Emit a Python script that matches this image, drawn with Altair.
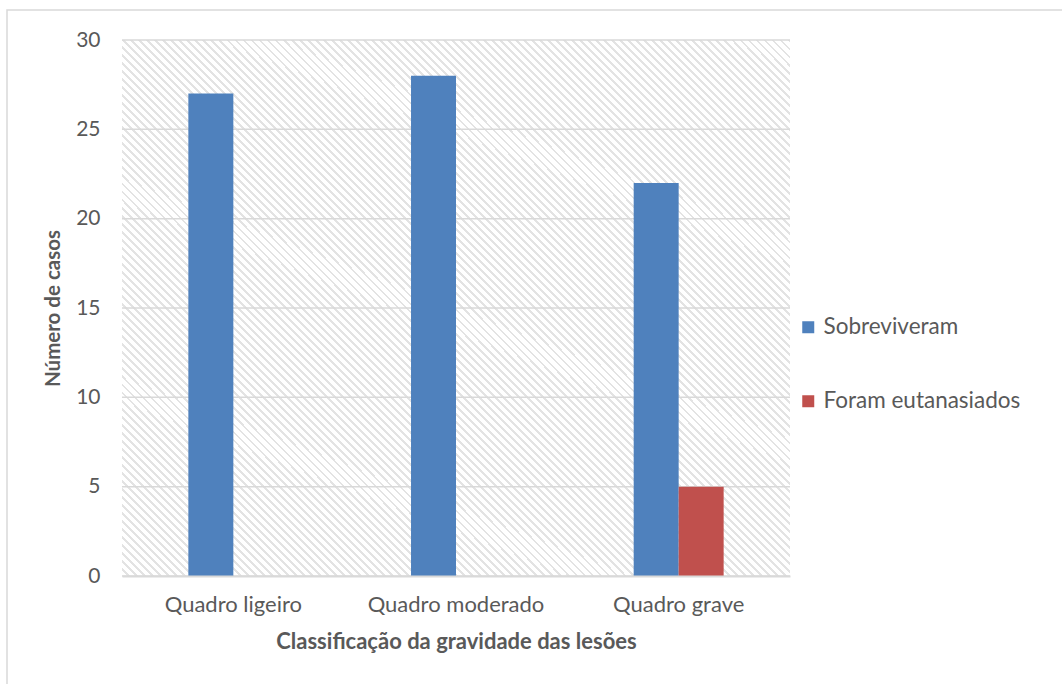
import altair as alt
import pandas as pd

# ---- data ----
categorias = ["Quadro ligeiro", "Quadro moderado", "Quadro grave"]
series = ["Sobreviveram", "Foram eutanasiados"]
sobreviveram = [27, 28, 22]
eutanasiados = [0, 0, 5]
cores = ["#4F81BD", "#C0504D"]
y_ticks = [0, 5, 10, 15, 20, 25, 30]

rows = []
for c, v in zip(categorias, sobreviveram):
    rows.append({"Classificação": c, "Série": series[0], "Casos": v})
for c, v in zip(categorias, eutanasiados):
    rows.append({"Classificação": c, "Série": series[1], "Casos": v})
df = pd.DataFrame(rows)
grid_df = pd.DataFrame({"Casos": y_ticks})

W, H = 668, 536
FONT = "Lato"
TXT = "#595959"

# diagonal hatch background for the plot area (decorative gradient)
n_stripes = 150
stops = []
for i in range(n_stripes):
    a = i / n_stripes
    b = (i + 0.64) / n_stripes
    e = (i + 1) / n_stripes
    stops += [
        {"offset": a, "color": "#ffffff"},
        {"offset": b, "color": "#ffffff"},
        {"offset": b, "color": "#e3e3e3"},
        {"offset": e, "color": "#e3e3e3"},
    ]
hatch = alt.LinearGradient(
    gradient="linear", x1=0, y1=1, x2=1.0976, y2=0.122, stops=stops
)

ysc = alt.Scale(domain=[0, 30], nice=False)

background = alt.Chart(pd.DataFrame({"k": [0]})).mark_rect(
    fill=hatch, strokeWidth=0
).encode(
    x=alt.value(0), x2=alt.value(W), y=alt.value(0), y2=alt.value(H)
)

grid = alt.Chart(grid_df).mark_rule(color="#d9d9d9", strokeWidth=1.5).encode(
    y=alt.Y("Casos:Q", scale=ysc)
)

bars = alt.Chart(df).mark_bar().encode(
    x=alt.X(
        "Classificação:N",
        sort=categorias,
        scale=alt.Scale(paddingInner=0.596, paddingOuter=0.298),
        axis=alt.Axis(
            title="Classificação da gravidade das lesões",
            labelAngle=0,
            labelPadding=18,
            labelFontSize=22,
            ticks=False,
            domainColor="#d9d9d9",
            domainWidth=2,
            titlePadding=16,
            titleFontSize=22,
            zindex=1,
        ),
    ),
    xOffset=alt.XOffset(
        "Série:N", sort=series, scale=alt.Scale(paddingInner=0, paddingOuter=0)
    ),
    y=alt.Y(
        "Casos:Q",
        scale=ysc,
        axis=alt.Axis(
            title="Número de casos",
            values=y_ticks,
            domain=False,
            ticks=False,
            grid=False,
            labelPadding=22,
            titlePadding=12,
            titleFontSize=20.5,
        ),
    ),
    color=alt.Color(
        "Série:N",
        sort=series,
        scale=alt.Scale(domain=series, range=cores),
        legend=alt.Legend(
            title=None,
            orient="none",
            legendX=675,
            legendY=276,
            symbolType="square",
            symbolSize=144,
            symbolStrokeWidth=0,
            labelFontSize=22.5,
            labelColor=TXT,
            labelFont=FONT,
            labelOffset=4,
            rowPadding=51,
            labelLimit=400,
        ),
    ),
)

frame = alt.Chart(pd.DataFrame({"k": [0]})).mark_rect(
    fill=None, stroke="#d9d9d9", strokeWidth=1.5
).encode(
    x=alt.value(-115), x2=alt.value(W + 300),
    y=alt.value(-30), y2=alt.value(H + 200),
)

chart = alt.layer(frame, background, grid, bars).properties(
    width=W,
    height=H,
    autosize=alt.AutoSizeParams(type="none"),
    padding={"left": 122, "top": 40, "right": 1062 - 122 - W, "bottom": 684 - 40 - H},
    background="white",
).configure_view(
    stroke=None,
).configure_axis(
    labelFont=FONT,
    labelFontSize=21,
    labelColor=TXT,
    titleFont=FONT,
    titleFontSize=20,
    titleFontWeight="bold",
    titleColor=TXT,
)

chart.save("out.html", embed_options={"renderer": "svg", "actions": False})
